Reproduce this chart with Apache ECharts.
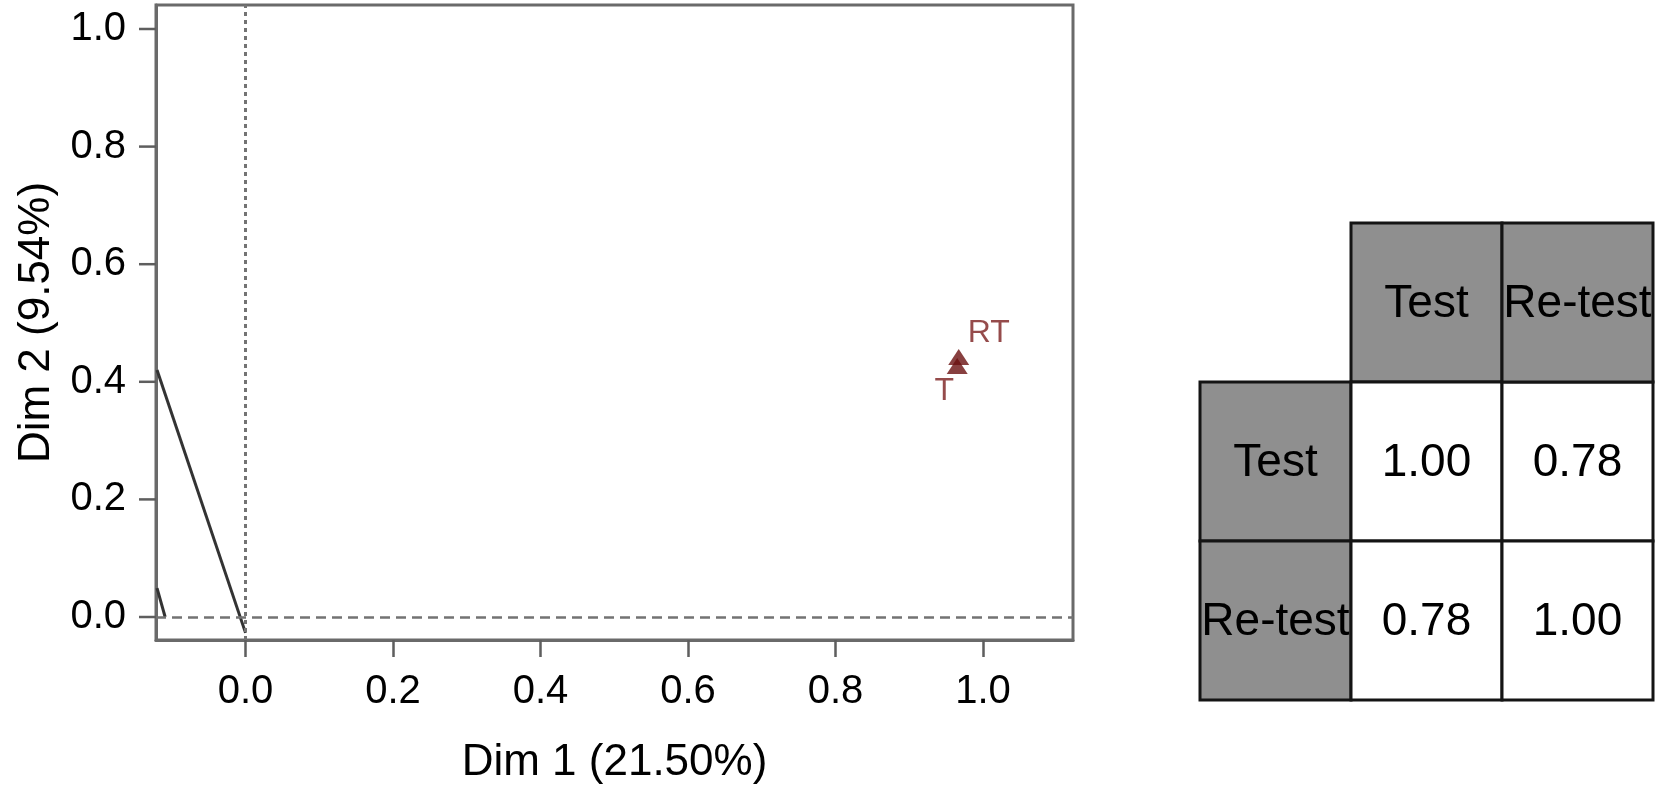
<!DOCTYPE html>
<html>
<head>
<meta charset="utf-8">
<title>Dim 1 / Dim 2</title>
<script src="https://cdn.jsdelivr.net/npm/echarts@6/dist/echarts.min.js"></script>
<style>
    html, body { margin: 0; padding: 0; background: #fff; }
    #chart { width: 1659px; height: 785px; }
</style>
</head>
<body>
<div id="chart"></div>
<script>
    // tick labels
    var xTicks = [0, 0.2, 0.4, 0.6, 0.8, 1.0];
    var yTicks = [0, 0.2, 0.4, 0.6, 0.8, 1.0];

    // points (Test / Re-test)
    var pointNames = ['RT', 'T'];
    var pointX = [0.967, 0.965];
    var pointY = [0.442, 0.427];

    // the two solid segments
    var segA = [[-0.12, 0.42], [0, -0.027]];
    var segB = [[-0.12, 0.049], [-0.109, 0.0]];

    // correlation table
    var tableLabels = ['Test', 'Re-test'];
    var corrValues = [[1.00, 0.78], [0.78, 1.00]];

    var font = '"Liberation Sans", Arial, Helvetica, sans-serif';
    var xMin = -0.1214, xMax = 1.122;
    var yMin = -0.0391, yMax = 1.0408;

    var cells = [];
    for (var i = 0; i < tableLabels.length; i++) {
        cells.push({ value: [i + 1, 0], text: tableLabels[i], head: true });
        cells.push({ value: [0, i + 1], text: tableLabels[i], head: true });
        for (var j = 0; j < tableLabels.length; j++) {
            cells.push({ value: [j + 1, i + 1], text: corrValues[i][j].toFixed(2), head: false });
        }
    }

    var points = [];
    for (var k = 0; k < pointNames.length; k++) {
        points.push({ name: pointNames[k], value: [pointX[k], pointY[k]] });
    }

    var chart = echarts.init(document.getElementById('chart'));
    chart.setOption({
        animation: false,
        grid: [
            { left: 156, top: 5, width: 917, height: 635, show: true, outerBoundsMode: 'none',
              borderColor: '#6a6a6a', borderWidth: 3, backgroundColor: 'transparent' },
            { left: 1200, top: 223, width: 453, height: 477, outerBoundsMode: 'none' }
        ],
        xAxis: [
            {
                gridIndex: 0, type: 'value', min: xMin, max: xMax, position: 'bottom',
                name: 'Dim 1 (21.50%)', nameLocation: 'middle', nameGap: 101,
                nameTextStyle: { fontSize: 44, color: '#000', fontFamily: font },
                axisLine: { show: true, onZero: false, lineStyle: { color: '#6a6a6a', width: 3 } },
                axisTick: { show: true, inside: false, length: 17, customValues: xTicks,
                            lineStyle: { color: '#5e5e5e', width: 2.5 } },
                axisLabel: { customValues: xTicks, margin: 32, fontSize: 40, color: '#000', fontFamily: font,
                             formatter: function (v) { return v.toFixed(1); } },
                splitLine: { show: false }
            },
            {
                gridIndex: 1, type: 'category', data: ['', 'Test', 'Re-test'], show: false
            }
        ],
        yAxis: [
            {
                gridIndex: 0, type: 'value', min: yMin, max: yMax, position: 'left',
                name: 'Dim 2 (9.54%)', nameLocation: 'middle', nameGap: 97,
                nameTextStyle: { fontSize: 44, color: '#000', fontFamily: font },
                axisLine: { show: true, onZero: false, lineStyle: { color: '#6a6a6a', width: 3 } },
                axisTick: { show: false },
                axisLabel: { customValues: yTicks, margin: 30, fontSize: 40, color: '#000', fontFamily: font,
                             formatter: function (v) { return v.toFixed(1); } },
                splitLine: { show: false }
            },
            {
                gridIndex: 1, type: 'category', data: ['', 'Test', 'Re-test'], inverse: true, show: false
            }
        ],
        series: [
            {
                type: 'line', xAxisIndex: 0, yAxisIndex: 0, data: segA, symbol: 'none',
                lineStyle: { color: '#333', width: 3 },
                markLine: {
                    silent: true, symbol: 'none', label: { show: false },
                    data: [
                        { xAxis: 0, lineStyle: { type: [4, 4], color: '#737373', width: 3 } },
                        { yAxis: 0, lineStyle: { type: [10, 6], color: '#737373', width: 2.5 } }
                    ]
                }
            },
            {
                type: 'line', xAxisIndex: 0, yAxisIndex: 0, data: segB, symbol: 'none',
                lineStyle: { color: '#333', width: 3 }
            },
            {
                type: 'scatter', xAxisIndex: 0, yAxisIndex: 0, data: points,
                symbol: 'triangle', symbolSize: [21, 16],
                itemStyle: { color: '#6a1010' },
                label: {
                    show: true, position: 'inside', color: '#7a1e1e', fontSize: 32, fontFamily: font,
                    formatter: '{b}'
                },
                labelLayout: function (params) {
                    return params.dataIndex === 0 ? { dx: 30, dy: -24 } : { dx: -13, dy: 25 };
                }
            },
            {
                type: 'custom', xAxisIndex: 1, yAxisIndex: 1, data: cells,
                renderItem: function (params, api) {
                    var cell = cells[params.dataIndex];
                    var c = api.coord([api.value(0), api.value(1)]);
                    var s = api.size([1, 1]);
                    return {
                        type: 'group',
                        children: [
                            {
                                type: 'rect',
                                shape: { x: c[0] - s[0] / 2, y: c[1] - s[1] / 2, width: s[0], height: s[1] },
                                style: { fill: cell.head ? '#8f8f8f' : '#fff', stroke: '#141414', lineWidth: 3 }
                            },
                            {
                                type: 'text',
                                style: {
                                    text: cell.text, x: c[0], y: c[1] + 2,
                                    align: 'center', verticalAlign: 'middle',
                                    fontSize: 46, fontFamily: font, fill: '#000'
                                }
                            }
                        ]
                    };
                }
            }
        ]
    });

    // y 轴刻度线: 用 convertToPixel 换算位置, 画在网格左边外侧
    var tickGraphics = yTicks.map(function (v) {
        var p = chart.convertToPixel({ xAxisIndex: 0, yAxisIndex: 0 }, [xMin, v]);
        return {
            type: 'rect', z: 100, silent: true,
            shape: { x: p[0] - 17, y: p[1] - 1.25, width: 17, height: 2.5 },
            style: { fill: '#5e5e5e' }
        };
    });
    chart.setOption({ graphic: tickGraphics });
</script>
</body>
</html>
